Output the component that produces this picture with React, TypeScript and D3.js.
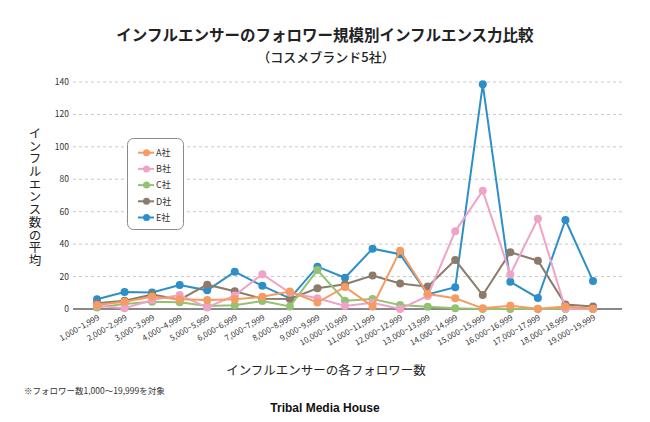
import React from "react";
import * as d3 from "d3";

const categories = [
  "1,000~1,999", "2,000~2,999", "3,000~3,999", "4,000~4,999", "5,000~5,999",
  "6,000~6,999", "7,000~7,999", "8,000~8,999", "9,000~9,999", "10,000~10,999",
  "11,000~11,999", "12,000~12,999", "13,000~13,999", "14,000~14,999", "15,000~15,999",
  "16,000~16,999", "17,000~17,999", "18,000~18,999", "19,000~19,999",
];

const seriesNames = ["A社", "B社", "C社", "D社", "E社"];
const seriesColors = ["#F59B63", "#EFA3C6", "#94C273", "#8C7B6B", "#2E8FC8"];

const valuesA = [2.5, 4.5, 7.6, 6, 5.5, 6, 7.5, 10.8, 4, 13.6, 1.6, 36, 9.2, 6.6, 0.4, 2, 0.2, 1.6, 0.2];
const valuesB = [2, 0.5, 5.5, 8.6, 1, 8.4, 21.5, 10, 6.6, 1.8, 3.9, 0, 8, 47.9, 73, 21.3, 55.7, 0.2, 0];
const valuesC = [1, 3.1, 4.5, 4.1, 1.8, 2.3, 4.9, 1.6, 24, 5.1, 6.1, 2.4, 1.4, 0.4, 0, 0, 0, 0, 0];
const valuesD = [3.5, 5.1, 9, 5.8, 15, 11, 6.3, 6.2, 12.8, 15.3, 20.6, 15.7, 13.8, 30.2, 8.6, 35, 29.8, 2.7, 1.6];
const valuesE = [6, 10.5, 10.2, 14.8, 11.5, 23, 14.3, 6.6, 26.1, 19.3, 37.2, 33.8, 9, 13.4, 138.6, 16.8, 6.8, 54.9, 17.3];

const seriesValues = [valuesA, valuesB, valuesC, valuesD, valuesE];

const yTicks = [0, 20, 40, 60, 80, 100, 120, 140];

const title = "インフルエンサーのフォロワー規模別インフルエンス力比較";
const subtitle = "（コスメブランド5社）";
const yLabel = "インフルエンス数の平均";
const xLabel = "インフルエンサーの各フォロワー数";
const note = "※フォロワー数1,000〜19,999を対象";
const credit = "Tribal Media House";

const W = 650;
const H = 422;
const plotLeft = 73;
const plotRight = 622;
const plotTop = 82;
const plotBottom = 309;
const FONT = "'Noto Sans CJK JP', 'Noto Sans', sans-serif";

export default function App() {
  const x = d3.scalePoint<string>().domain(categories).range([97, 593]);
  const y = d3.scaleLinear().domain([0, 140]).range([plotBottom, plotTop]);
  const line = d3
    .line<number>()
    .x((_, i) => x(categories[i]) as number)
    .y((d) => y(d));

  const drawOrder = [4, 3, 2, 1, 0];

  return (
    <>
      <style>{"body{margin:0}"}</style>
      <svg width={W} height={H} style={{ display: "block", background: "#fff" }} fontFamily={FONT}>
        <rect width={W} height={H} fill="#fff" />
        <text x={325} y={41} textAnchor="middle" fontSize={15.5} fontWeight={700} fill="#222">
          {title}
        </text>
        <text x={326} y={62} textAnchor="middle" fontSize={13} fontWeight={500} fill="#222">
          {subtitle}
        </text>

        {yTicks.map((t) => (
          <g key={t}>
            {t > 0 && (
              <line
                x1={plotLeft}
                x2={plotRight}
                y1={y(t)}
                y2={y(t)}
                stroke="#c8c8c8"
                strokeWidth={1}
                strokeDasharray="3,3"
              />
            )}
            <text x={69} y={y(t) + 3} textAnchor="end" fontSize={8.5} fill="#333">
              {t}
            </text>
          </g>
        ))}

        <line x1={plotLeft} x2={plotRight} y1={plotBottom} y2={plotBottom} stroke="#888" strokeWidth={2} />

        {categories.map((c) => (
          <text
            key={c}
            transform={`translate(${(x(c) as number) + 3},${plotBottom + 10}) rotate(-30)`}
            textAnchor="end"
            fontSize={8}
            fill="#333"
          >
            {c}
          </text>
        ))}

        {drawOrder.map((si) => (
          <g key={si}>
            <path d={line(seriesValues[si]) || ""} fill="none" stroke={seriesColors[si]} strokeWidth={2} />
            {seriesValues[si].map((v, i) => (
              <circle key={i} cx={x(categories[i]) as number} cy={y(v)} r={4} fill={seriesColors[si]} />
            ))}
          </g>
        ))}

        <g>
          <rect x={127.5} y={138.5} width={56} height={91} rx={6} fill="#fff" stroke="#8a8a8a" strokeWidth={1} />
          {seriesNames.map((n, i) => {
            const ly = 152.7 + i * 16.2;
            return (
              <g key={n}>
                <line x1={138} x2={154} y1={ly} y2={ly} stroke={seriesColors[i]} strokeWidth={2} />
                <circle cx={146.5} cy={ly} r={3.5} fill={seriesColors[i]} />
                <text x={156} y={ly + 3.3} fontSize={9} fill="#333">
                  {n}
                </text>
              </g>
            );
          })}
        </g>

        <text
          x={35}
          y={127}
          fontSize={12.5}
          fill="#222"
          letterSpacing={0.2}
          style={{ writingMode: "vertical-rl" } as React.CSSProperties}
        >
          {yLabel}
        </text>

        <text x={326} y={375} textAnchor="middle" fontSize={12.5} fill="#222">
          {xLabel}
        </text>
        <text x={24} y={394} fontSize={8.5} fill="#333">
          {note}
        </text>
        <text x={325} y={412} textAnchor="middle" fontSize={12} fontWeight={700} fill="#111" fontFamily="'Liberation Sans', Arial, sans-serif">
          {credit}
        </text>
      </svg>
    </>
  );
}
